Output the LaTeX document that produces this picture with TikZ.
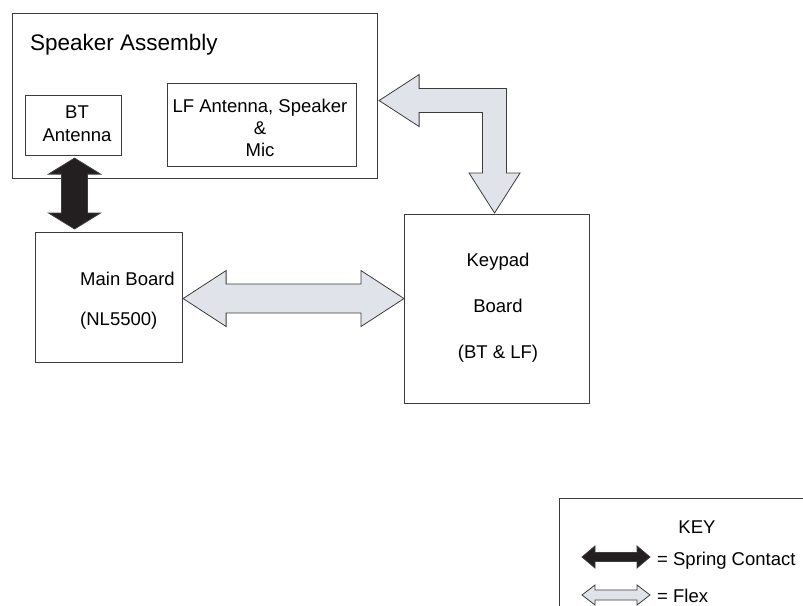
\documentclass[tikz,border=0pt]{standalone}
\usepackage{fontspec}
\setmainfont{Liberation Sans}
\usetikzlibrary{calc}
\definecolor{flexfill}{RGB}{224,227,233}
\definecolor{springfill}{RGB}{35,31,32}
\definecolor{edge}{RGB}{60,60,60}

\begin{document}
\begin{tikzpicture}[x=1pt,y=-1pt,
  box/.style={draw=edge,line width=1.1pt,inner sep=0pt,anchor=north west},
  lbl/.style={inner sep=0pt,align=center,font=\fontsize{18.5}{22}\selectfont},
  flex/.style={draw=edge,line width=0.8pt,fill=flexfill},
  spring/.style={draw=edge,line width=0.8pt,fill=springfill}]
  \clip (0,0) rectangle (803,605);
  % boxes
  \node[box,minimum width=365,minimum height=165] (spk) at (12,13) {};
  \node[box,minimum width=96,minimum height=60] (bt) at (25,95) {};
  \node[box,minimum width=189,minimum height=83] (lf) at (167,83) {};
  \node[box,minimum width=147,minimum height=130] (main) at (35,232) {};
  \node[box,minimum width=185,minimum height=189] (keypad) at (404,214) {};
  \node[box,minimum width=260,minimum height=130] (keybox) at (559,498) {};
  % labels
  \node[lbl,anchor=base west,font=\fontsize{22.5}{26}\selectfont] (spklbl) at (30,50) {Speaker Assembly};
  \node[lbl] (btlbl) at (77,124) {BT\\[1pt]Antenna};
  \node[lbl] (lflbl) at (260,128.3) {LF Antenna, Speaker\\\&\\Mic};
  \node[lbl,align=left,anchor=west] (mainlbl) at (80,301) {Main Board\\[18pt](NL5500)};
  \node[lbl] (keylbl) at (498,308) {Keypad\\[24pt]Board\\[24pt](BT \& LF)};
  \node[lbl,anchor=base] (keyttl) at (697,533) {KEY};
  \node[lbl,anchor=base west] (springlbl) at (657,565) {= Spring Contact};
  \node[lbl,anchor=base west] (flexlbl) at (657,602) {= Flex};
  % spring contact, antenna to main board
  \coordinate (sp1) at ($(bt.south)+(1,2)$);
  \coordinate (sp2) at ($(sp1 |- main.north)+(0,-3)$);
  \path[spring] let \p1=(sp1), \p2=(sp2) in
    (\p1) -- (\x1+26pt,\y1-16pt) -- (\x1+13pt,\y1-16pt) -- (\x1+13pt,\y2+16pt)
    -- (\x1+26pt,\y2+16pt) -- (\p2) -- (\x1-26pt,\y2+16pt) -- (\x1-13pt,\y2+16pt)
    -- (\x1-13pt,\y1-16pt) -- (\x1-26pt,\y1-16pt) -- cycle;
  % flex, main board to keypad
  \coordinate (fx1) at ($(main.east)+(0,1)$);
  \coordinate (fx2) at (fx1 -| keypad.west);
  \path[flex] let \p1=(fx1), \p2=(fx2) in
    (\p1) -- (\x1+43pt,\y1+28pt) -- (\x1+43pt,\y1+14.5pt) -- (\x2-43pt,\y1+14.5pt)
    -- (\x2-43pt,\y1+28pt) -- (\p2) -- (\x2-43pt,\y1-28pt) -- (\x2-43pt,\y1-14.5pt)
    -- (\x1+43pt,\y1-14.5pt) -- (\x1+43pt,\y1-28pt) -- cycle;
  % flex, speaker assembly to keypad
  \coordinate (lf1) at ($(spk.east)+(1,4.5)$);
  \coordinate (lf2) at ($(keypad.north)+(-2.5,-1)$);
  \path[flex] let \p1=(lf1), \p2=(lf2) in
    (\p1) -- (\x1+40pt,\y1+26pt) -- (\x1+40pt,\y1+12pt) -- (\x2+12pt,\y1+12pt)
    -- (\x2+12pt,\y2+40pt) -- (\x2+25.5pt,\y2+40pt) -- (\p2) -- (\x2-25.5pt,\y2+40pt)
    -- (\x2-12pt,\y2+40pt) -- (\x2-12pt,\y1-12pt) -- (\x1+40pt,\y1-12pt)
    -- (\x1+40pt,\y1-26pt) -- cycle;
  % key
  \coordinate (ks1) at ($(keybox.north west)+(23,59)$);
  \coordinate (ks2) at ($(ks1)+(68,0)$);
  \path[spring] let \p1=(ks1), \p2=(ks2) in
    (\p1) -- (\x1+13pt,\y1+11pt) -- (\x1+13pt,\y1+4.5pt) -- (\x2-13pt,\y1+4.5pt)
    -- (\x2-13pt,\y1+11pt) -- (\p2) -- (\x2-13pt,\y1-11pt) -- (\x2-13pt,\y1-4.5pt)
    -- (\x1+13pt,\y1-4.5pt) -- (\x1+13pt,\y1-11pt) -- cycle;
  \coordinate (kf1) at ($(ks1)+(0,38)$);
  \coordinate (kf2) at ($(ks2)+(0,38)$);
  \path[flex] let \p1=(kf1), \p2=(kf2) in
    (\p1) -- (\x1+13pt,\y1+10pt) -- (\x1+13pt,\y1+5pt) -- (\x2-13pt,\y1+5pt)
    -- (\x2-13pt,\y1+10pt) -- (\p2) -- (\x2-13pt,\y1-10pt) -- (\x2-13pt,\y1-5pt)
    -- (\x1+13pt,\y1-5pt) -- (\x1+13pt,\y1-10pt) -- cycle;
\end{tikzpicture}
\end{document}
